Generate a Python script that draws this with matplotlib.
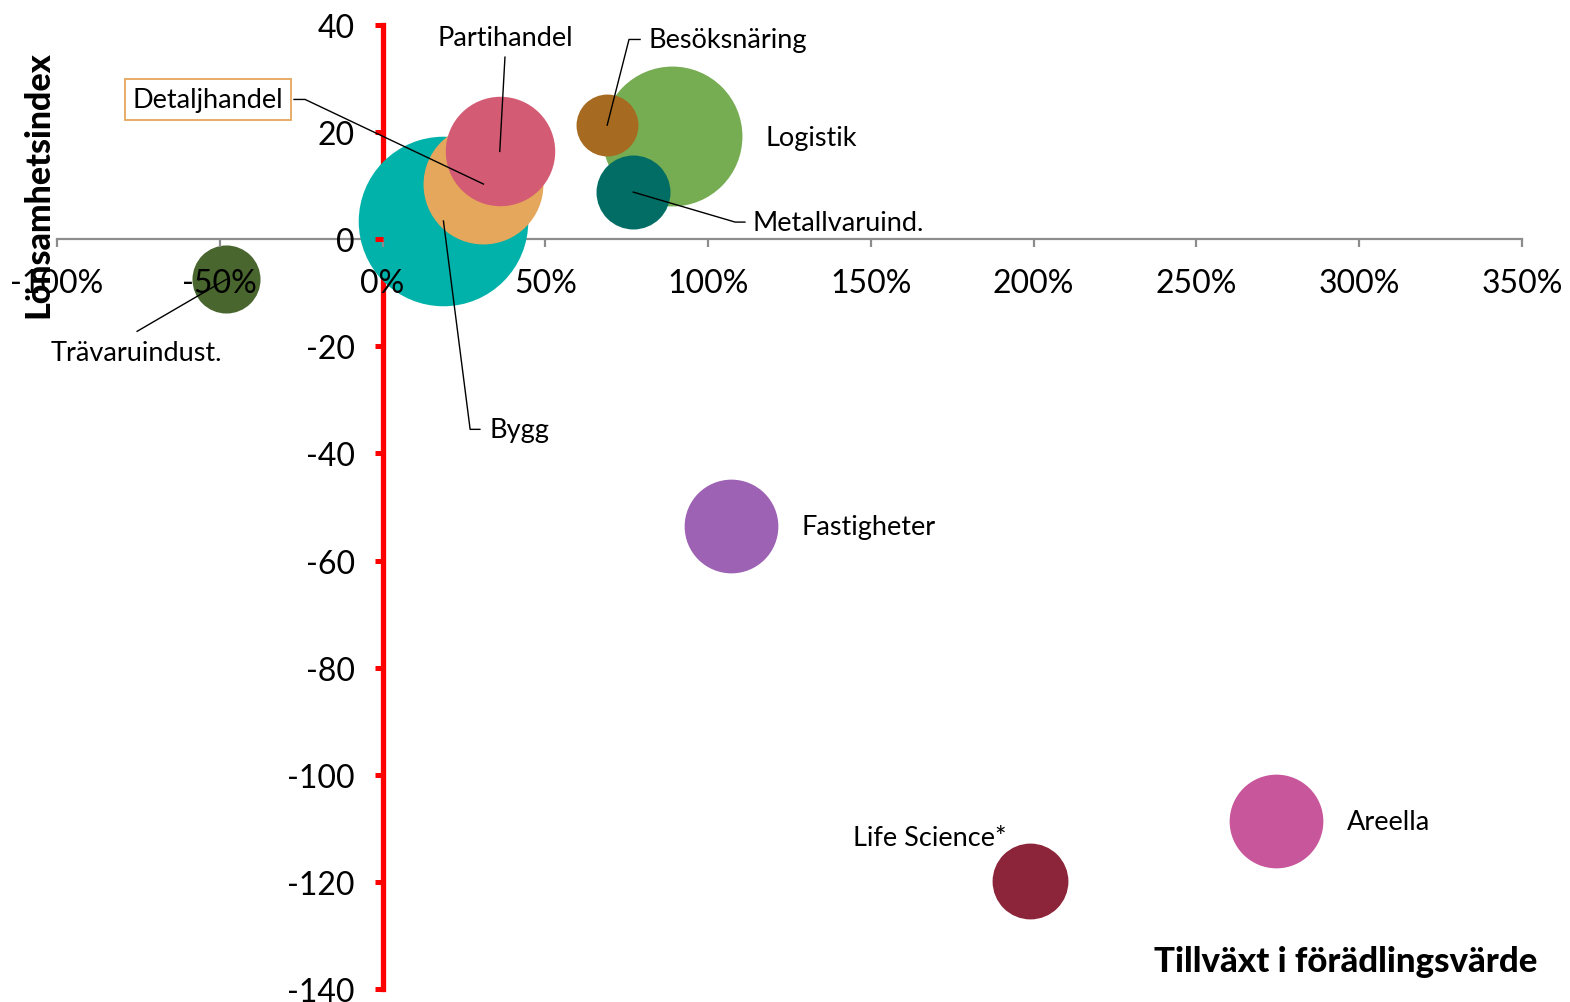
import matplotlib.pyplot as plt
from matplotlib.ticker import FuncFormatter

plt.rcParams['font.family'] = ['Lato', 'DejaVu Sans']
plt.rcParams['axes.unicode_minus'] = False

# branscher: tillväxt i förädlingsvärde (%), lönsamhetsindex, bubbelstorlek
names = ['Trävaruindust.', 'Bygg', 'Detaljhandel', 'Partihandel', 'Besöksnäring',
         'Logistik', 'Metallvaruind.', 'Fastigheter', 'Life Science*', 'Areella']
growth = [-48, 18.7, 31, 36, 69, 89, 77, 107, 199, 274.5]
profit = [-7.5, 3.4, 10.3, 16.4, 21.3, 19.2, 8.8, -53.6, -119.9, -108.7]
size = [11.6, 72, 36, 30, 9.6, 49, 13.7, 22, 14.4, 22]
colors = ['#48662d', '#00b2a9', '#e5a75c', '#d45b74', '#a66a20',
          '#76ac52', '#016d64', '#9e62b5', '#8c2539', '#c7579a']

# etikettpositioner (data) och hjälplinjer
label_pos = {
    'Trävaruindust.': (-75.7, -21.1, 'center'),
    'Bygg': (33.0, -35.5, 'left'),
    'Detaljhandel': (-53.6, 26.1, 'center'),
    'Partihandel': (37.6, 37.7, 'center'),
    'Besöksnäring': (81.8, 37.3, 'left'),
    'Logistik': (117.5, 19.0, 'left'),
    'Metallvaruind.': (113.5, 3.2, 'left'),
    'Fastigheter': (128.8, -53.6, 'left'),
    'Life Science*': (168.0, -111.7, 'center'),
    'Areella': (296.2, -108.8, 'left'),
}
leaders = {
    'Trävaruindust.': [(-75.4, -17.2)],
    'Bygg': [(29.9, -35.5), (26.9, -35.5)],
    'Detaljhandel': [(-27.2, 26.1), (-23.8, 26.1)],
    'Partihandel': [(37.6, 34.0)],
    'Besöksnäring': [(79.1, 37.3), (75.7, 37.3)],
    'Metallvaruind.': [(111.3, 3.2), (108.3, 3.2)],
}

fig = plt.figure(figsize=(15.7, 10.03), dpi=100)
ax = fig.add_axes([57 / 1570, 1 - 990 / 1003, (1522 - 57) / 1570, (990 - 26) / 1003])

order = sorted(range(len(names)), key=lambda i: -size[i])
for i in order:
    ax.scatter(growth[i], profit[i], s=size[i] * 207, color=colors[i], linewidths=0, zorder=3)

for i, n in enumerate(names):
    tx, ty, ha = label_pos[n]
    kw = {}
    if n == 'Detaljhandel':
        kw['bbox'] = dict(boxstyle='square,pad=0.3', fc='white', ec='#e5a75c', lw=1.3)
    ax.text(tx, ty, n, ha=ha, va='center', fontsize=19.5, zorder=6, **kw)
    if n in leaders:
        pts = leaders[n] + [(growth[i], profit[i])]
        ax.plot([p[0] for p in pts], [p[1] for p in pts], color='black', lw=1, zorder=5)

ax.set_xlim(-100, 350)
ax.set_ylim(-140, 40)
ax.set_xticks(range(-100, 351, 50))
ax.set_yticks(range(-140, 41, 20))
ax.xaxis.set_major_formatter(FuncFormatter(lambda v, p: f'{v:.0f}%'))

for s in ['top', 'right']:
    ax.spines[s].set_visible(False)
ax.spines['left'].set_position(('data', 0))
ax.spines['left'].set_color('red')
ax.spines['left'].set_linewidth(3.8)
ax.spines['left'].set_zorder(2)
ax.spines['bottom'].set_position(('data', 0))
ax.spines['bottom'].set_color('#8c8c8c')
ax.spines['bottom'].set_linewidth(1.6)
ax.spines['bottom'].set_zorder(2)

ax.tick_params(axis='y', colors='red', length=6, width=3.6, direction='out', pad=14, labelsize=23, labelcolor='black')
ax.tick_params(axis='x', colors='#8c8c8c', length=6, width=1.6, direction='out', pad=15, labelsize=23, labelcolor='black')
ax.xaxis.set_zorder(4)
ax.yaxis.set_zorder(4)

fig.text(38 / 1570, 1 - 185 / 1003, 'Lönsamhetsindex', rotation=90, ha='center', va='center',
         fontsize=24.5, fontweight='black', zorder=7)
fig.text(1537 / 1570, 1 - 962 / 1003, 'Tillväxt i förädlingsvärde', ha='right', va='center',
         fontsize=25, fontweight='black')

fig.savefig('out.png', dpi=100)
